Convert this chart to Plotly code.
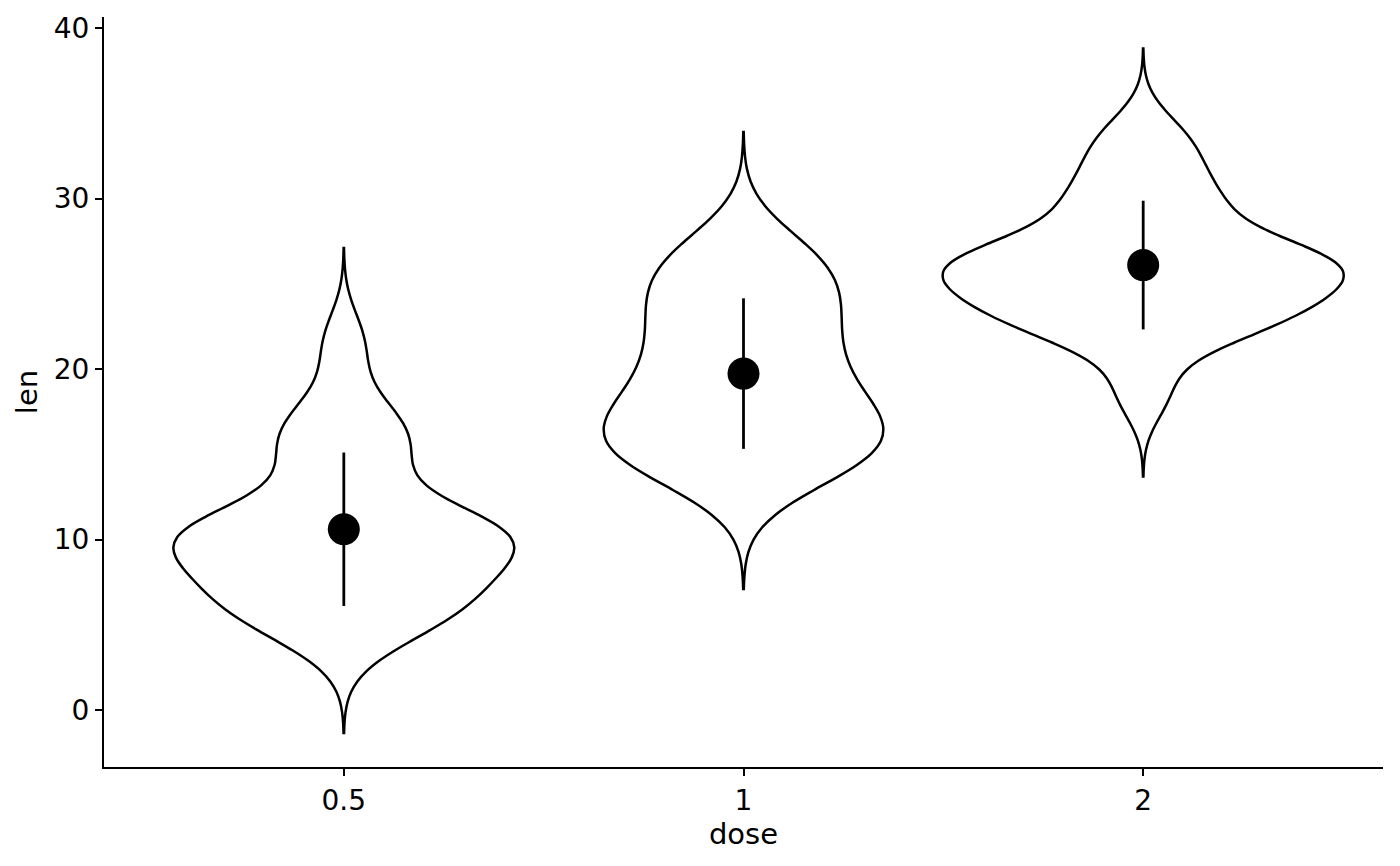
import numpy as np
import plotly.graph_objects as go

# ToothGrowth len values by dose
doses = ["0.5", "1", "2"]
len_05 = [4.2, 11.5, 7.3, 5.8, 6.4, 10, 11.2, 11.2, 5.2, 7,
          15.2, 21.5, 17.6, 9.7, 14.5, 10, 8.2, 9.4, 16.5, 9.7]
len_1 = [16.5, 16.5, 15.2, 17.3, 22.5, 17.3, 13.6, 14.5, 18.8, 15.5,
         19.7, 23.3, 23.6, 26.4, 20, 25.2, 25.8, 21.2, 14.5, 27.3]
len_2 = [23.6, 18.5, 33.9, 25.5, 26.4, 32.5, 26.7, 21.5, 23.3, 29.5,
         25.5, 26.4, 22.4, 24.5, 24.8, 30.9, 26.4, 27.3, 29.4, 23]
groups = [len_05, len_1, len_2]
# visible extent of each (untrimmed) violin
spans = [[-1.35, 27.1], [7.1, 33.9], [13.7, 38.8]]


def nrd0(v):
    v = np.asarray(v, float)
    q75, q25 = np.percentile(v, [75, 25])
    return 0.9 * min(v.std(ddof=1), (q75 - q25) / 1.34) * len(v) ** -0.2


def max_kde(v, bw, sp):
    v = np.asarray(v, float)
    t = np.linspace(sp[0], sp[1], 600)
    k = np.exp(-0.5 * ((t[:, None] - v[None, :]) / bw) ** 2).sum(axis=1)
    return k.max() / (len(v) * bw * np.sqrt(2 * np.pi))


bws = [nrd0(g) for g in groups]
peaks = [max_kde(g, b, s) for g, b, s in zip(groups, bws, spans)]
# equal-area scaling: widest violin spans the full category width
widths = [p / max(peaks) for p in peaks]

fig = go.Figure()
for i, (d, vals, sp) in enumerate(zip(doses, groups, spans)):
    fig.add_trace(go.Violin(
        x=[d] * len(vals), y=vals, name=d,
        scalegroup="g%d" % i, scalemode="width", width=widths[i],
        bandwidth=bws[i], spanmode="manual", span=sp,
        points=False, box_visible=False, meanline_visible=False,
        fillcolor="rgba(255,255,255,0)", line=dict(color="black", width=2.5),
        hoverinfo="skip", showlegend=False,
    ))

means = [float(np.mean(g)) for g in groups]
sds = [float(np.std(g, ddof=1)) for g in groups]
fig.add_trace(go.Scatter(
    x=doses, y=means, mode="markers",
    marker=dict(color="black", size=32),
    error_y=dict(type="data", array=sds, visible=True, color="black",
                 thickness=2.8, width=0),
    showlegend=False, hoverinfo="skip",
))

font = "DejaVu Sans, sans-serif"
fig.update_layout(
    width=1400, height=866,
    paper_bgcolor="white", plot_bgcolor="white",
    margin=dict(l=104, r=17, t=17, b=99, autoexpand=False),
    font=dict(family=font, size=29, color="black"),
    violingap=0, violingroupgap=0,
    xaxis=dict(
        type="category", range=[-0.6, 2.6],
        showline=True, linecolor="black", linewidth=2.2,
        ticks="outside", ticklen=7, tickwidth=2.2, tickcolor="black",
        showgrid=False, zeroline=False,
        tickfont=dict(size=28, color="black"),
        title=dict(text="dose", font=dict(size=29), standoff=6),
    ),
    yaxis=dict(
        range=[-3.34, 40.65], tickvals=[0, 10, 20, 30, 40],
        showline=True, linecolor="black", linewidth=2.2,
        ticks="outside", ticklen=7, tickwidth=2.2, tickcolor="black",
        showgrid=False, zeroline=False,
        tickfont=dict(size=28, color="black"),
        title=dict(text="len", font=dict(size=29), standoff=8),
    ),
)
fig.write_html(
    "out.html",
    config={"displayModeBar": False},
    post_script="document.body.style.margin='0';document.body.style.overflow='hidden';",
)
